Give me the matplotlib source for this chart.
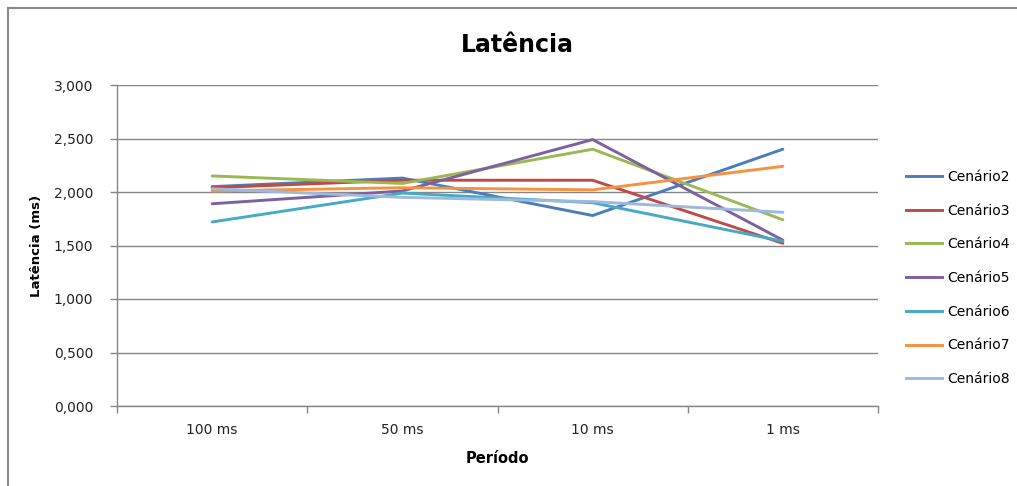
import matplotlib
matplotlib.use("Agg")
import matplotlib.pyplot as plt
from matplotlib.lines import Line2D

# Latency per sampling period for each scenario
periodos = ["100 ms", "50 ms", "10 ms", "1 ms"]
cenario2 = [2.05, 2.13, 1.78, 2.40]
cenario3 = [2.04, 2.11, 2.11, 1.52]
cenario4 = [2.15, 2.08, 2.40, 1.74]
cenario5 = [1.89, 2.01, 2.49, 1.55]
cenario6 = [1.72, 1.99, 1.90, 1.54]
cenario7 = [2.01, 2.04, 2.02, 2.24]
cenario8 = [2.03, 1.95, 1.91, 1.81]

nomes = ["Cenário2", "Cenário3", "Cenário4", "Cenário5", "Cenário6", "Cenário7", "Cenário8"]
series = [cenario2, cenario3, cenario4, cenario5, cenario6, cenario7, cenario8]
cores = ["#4A7EBB", "#BE4B48", "#98B954", "#7D60A0", "#46AAC5", "#F69240", "#9DB9DD"]
y_ticks = [0.0, 0.5, 1.0, 1.5, 2.0, 2.5, 3.0]

W, H = 1017, 486
fig = plt.figure(figsize=(W / 100, H / 100), dpi=100)
fig.patch.set_facecolor("white")

ax = fig.add_axes([117 / W, 1 - 406 / H, (878 - 117) / W, (406 - 85) / H])

x = list(range(len(periodos)))
for nome, vals, cor in zip(nomes, series, cores):
    ax.plot(x, vals, color=cor, linewidth=2.1, label=nome, solid_capstyle="round")

grid_color = "#868686"
ax.set_xlim(-0.5, len(periodos) - 0.5)
ax.set_ylim(0, 3.0)
ax.set_yticks(y_ticks)
ax.set_yticklabels([f"{v:.3f}".replace(".", ",") for v in y_ticks],
                   fontsize=10, color="#222222")
ax.yaxis.grid(True, color=grid_color, linewidth=1.0)
ax.set_axisbelow(True)

ax.set_xticks(x)
ax.set_xticklabels(periodos, fontsize=10, color="#222222")
ax.set_xticks([i - 0.5 for i in range(len(periodos) + 1)], minor=True)
ax.tick_params(axis="x", which="major", length=0, pad=12)
ax.tick_params(axis="x", which="minor", length=5, color=grid_color, width=1.0)
ax.tick_params(axis="y", which="major", length=5, color=grid_color, width=1.0, pad=12)

for s in ["top", "right"]:
    ax.spines[s].set_visible(False)
for s in ["left", "bottom"]:
    ax.spines[s].set_color(grid_color)
    ax.spines[s].set_linewidth(1.0)

ax.set_xlabel("Período", fontsize=10.5, fontweight="bold", labelpad=10)
ax.set_ylabel("Latência (ms)", fontsize=9.5, fontweight="bold", labelpad=8)

fig.text(517 / W, 1 - 45 / H, "Latência", ha="center", va="center",
         fontsize=17, fontweight="bold", color="black")

handles = [Line2D([0], [0], color=c, linewidth=2.1) for c in cores]
leg = fig.legend(handles, nomes, loc="center left",
                 bbox_to_anchor=(893 / W, 1 - 278 / H),
                 frameon=False, fontsize=10, handlelength=2.6,
                 handletextpad=0.4, labelspacing=1.42)

# Chart frame: top and left border lines
fig.add_artist(Line2D([8 / W, 1.0], [1 - 8 / H, 1 - 8 / H],
                      transform=fig.transFigure, color="#8a8a8a", linewidth=1.5))
fig.add_artist(Line2D([8 / W, 8 / W], [0, 1 - 8 / H],
                      transform=fig.transFigure, color="#8a8a8a", linewidth=1.5))

fig.savefig("out.png", dpi=100, facecolor="white")
